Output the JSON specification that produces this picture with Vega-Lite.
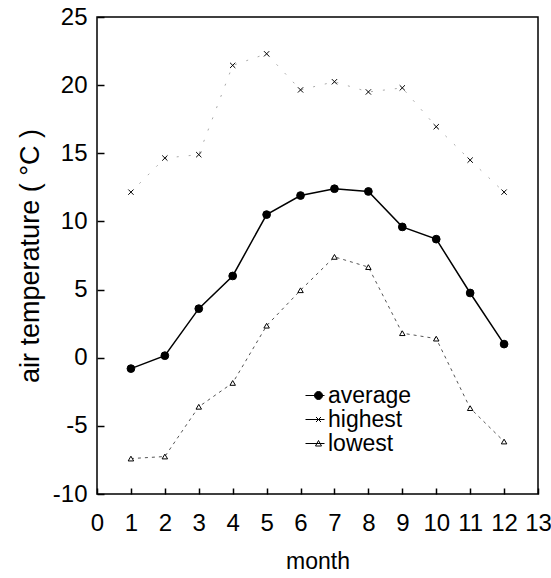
{
  "$schema": "https://vega.github.io/schema/vega-lite/v6.json",
  "autosize": "none",
  "width": 441,
  "height": 477,
  "padding": {"left": 97, "top": 17, "right": 13, "bottom": 84},
  "background": "white",
  "config": {
    "font": "Liberation Sans",
    "view": {"stroke": "black", "strokeWidth": 1.5},
    "axis": {"labelColor": "black", "titleColor": "black", "tickColor": "black"}
  },
  "data": {
    "values": [
      {"month": 1, "series": "average", "temp": -0.8},
      {"month": 2, "series": "average", "temp": 0.15},
      {"month": 3, "series": "average", "temp": 3.6},
      {"month": 4, "series": "average", "temp": 6.0},
      {"month": 5, "series": "average", "temp": 10.5},
      {"month": 6, "series": "average", "temp": 11.9},
      {"month": 7, "series": "average", "temp": 12.4},
      {"month": 8, "series": "average", "temp": 12.2},
      {"month": 9, "series": "average", "temp": 9.6},
      {"month": 10, "series": "average", "temp": 8.7},
      {"month": 11, "series": "average", "temp": 4.75},
      {"month": 12, "series": "average", "temp": 1.0},
      {"month": 1, "series": "highest", "temp": 12.15},
      {"month": 2, "series": "highest", "temp": 14.65},
      {"month": 3, "series": "highest", "temp": 14.9},
      {"month": 4, "series": "highest", "temp": 21.45},
      {"month": 5, "series": "highest", "temp": 22.3},
      {"month": 6, "series": "highest", "temp": 19.65},
      {"month": 7, "series": "highest", "temp": 20.25},
      {"month": 8, "series": "highest", "temp": 19.5},
      {"month": 9, "series": "highest", "temp": 19.8},
      {"month": 10, "series": "highest", "temp": 16.95},
      {"month": 11, "series": "highest", "temp": 14.5},
      {"month": 12, "series": "highest", "temp": 12.15},
      {"month": 1, "series": "lowest", "temp": -7.4},
      {"month": 2, "series": "lowest", "temp": -7.25},
      {"month": 3, "series": "lowest", "temp": -3.6},
      {"month": 4, "series": "lowest", "temp": -1.85},
      {"month": 5, "series": "lowest", "temp": 2.35},
      {"month": 6, "series": "lowest", "temp": 4.95},
      {"month": 7, "series": "lowest", "temp": 7.4},
      {"month": 8, "series": "lowest", "temp": 6.65},
      {"month": 9, "series": "lowest", "temp": 1.8},
      {"month": 10, "series": "lowest", "temp": 1.4},
      {"month": 11, "series": "lowest", "temp": -3.7},
      {"month": 12, "series": "lowest", "temp": -6.15}
    ]
  },
  "encoding": {
    "x": {
      "field": "month", "type": "quantitative",
      "scale": {"domain": [0, 13], "nice": false, "zero": false},
      "axis": {
        "title": "month",
        "tickCount": 13,
        "labelExpr": "toString(datum.value)",
        "labelOverlap": false, "labelFlush": false,
        "domain": false, "grid": false, "ticks": true, "zindex": 1,
        "offset": -6, "tickSize": 6, "tickWidth": 1.5, "tickColor": "black",
        "labelFontSize": 24, "labelPadding": 17,
        "titleFontSize": 23, "titleFontWeight": "normal", "titlePadding": 15
      }
    },
    "y": {
      "field": "temp", "type": "quantitative",
      "scale": {"domain": [-10, 25], "nice": false, "zero": false},
      "axis": {
        "title": "air temperature (  °C )",
        "tickCount": 7,
        "labelExpr": "toString(datum.value)",
        "labelOverlap": false, "labelFlush": false,
        "domain": false, "grid": false, "ticks": true, "zindex": 1,
        "offset": -7, "tickSize": 7, "tickWidth": 1.5, "tickColor": "black",
        "labelFontSize": 24, "labelPadding": 10,
        "titleFontSize": 27, "titleFontWeight": "normal", "titlePadding": 8
      }
    }
  },
  "resolve": {"scale": {"shape": "independent", "fill": "independent"}},
  "layer": [
    {
      "transform": [{"filter": "datum.series === 'highest'"}],
      "mark": {"type": "line", "stroke": "#aaaaaa", "strokeWidth": 1, "strokeDash": [2, 10]}
    },
    {
      "transform": [{"filter": "datum.series === 'lowest'"}],
      "mark": {"type": "line", "stroke": "#555555", "strokeWidth": 1, "strokeDash": [3, 4]}
    },
    {
      "transform": [{"filter": "datum.series === 'average'"}],
      "mark": {"type": "line", "stroke": "black", "strokeWidth": 1.5}
    },
    {
      "mark": {"type": "point", "stroke": "black", "strokeWidth": 1, "opacity": 1},
      "encoding": {
        "shape": {
          "field": "series", "type": "nominal",
          "scale": {"domain": ["average", "highest", "lowest"], "range": ["circle", "M-1,-1L1,1M1,-1L-1,1", "triangle-up"]},
          "legend": null
        },
        "fill": {
          "condition": {"test": "datum.series === 'average'", "value": "black"},
          "value": "white"
        },
        "size": {
          "condition": [
            {"test": "datum.series === 'average'", "value": 60},
            {"test": "datum.series === 'highest'", "value": 28}
          ],
          "value": 30
        }
      }
    },
    {
      "transform": [{"filter": "false"}],
      "mark": {"type": "point", "stroke": "black", "strokeWidth": 1, "opacity": 1},
      "encoding": {
        "shape": {
          "field": "series", "type": "nominal",
          "scale": {
            "domain": ["average", "highest", "lowest"],
            "range": [
              "M-1.3,0L0.6,0M-0.4,0A0.4,0.4,0,1,0,0.4,0A0.4,0.4,0,1,0,-0.4,0Z",
              "M-1.3,0L0.6,0M-0.25,-0.25L0.25,0.25M0.25,-0.25L-0.25,0.25",
              "M-1.3,0L0.6,0M0,-0.3L0.3,0.25L-0.3,0.25Z"
            ]
          },
          "legend": {
            "orient": "none", "legendX": 210, "legendY": 367, "title": null,
            "labelFontSize": 23, "labelOffset": -2, "symbolSize": 400, "rowPadding": 0,
            "labelColor": "black", "symbolStrokeWidth": 1
          }
        },
        "fill": {
          "field": "series", "type": "nominal",
          "scale": {"domain": ["average", "highest", "lowest"], "range": ["black", "transparent", "transparent"]}
        }
      }
    }
  ]
}
